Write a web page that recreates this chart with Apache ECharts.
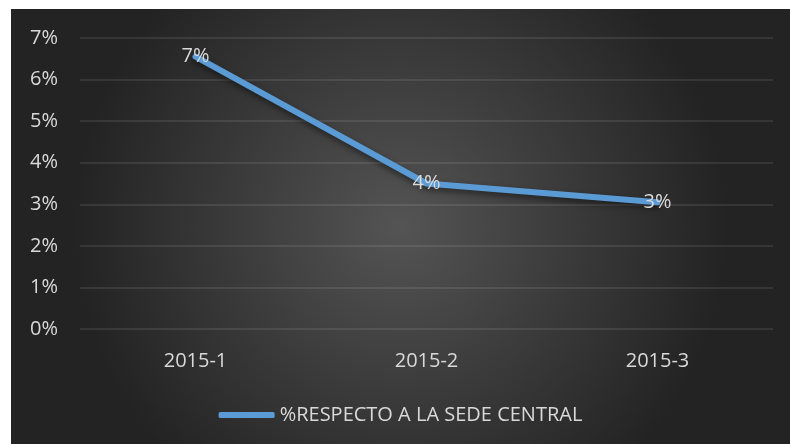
<!DOCTYPE html>
<html>
<head>
<meta charset="utf-8">
<script src="https://cdn.jsdelivr.net/npm/echarts@6/dist/echarts.min.js"></script>
<style>
  html, body { margin: 0; padding: 0; background: #fff; }
  #chart { position: absolute; left: 11px; top: 9px; width: 779px; height: 435px; }
</style>
</head>
<body>
<div id="chart"></div>
<script>
// datos del grafico
const categorias = ["2015-1", "2015-2", "2015-3"];
const porcentajes = [6.55, 3.5, 3.05];
const nombreSerie = "%RESPECTO A LA SEDE CENTRAL";

const chart = echarts.init(document.getElementById("chart"));
const fuente = "'Open Sans', 'DejaVu Sans', sans-serif";
const textoColor = "#d9d9d9";

let options = {
    backgroundColor: {
        type: "radial", x: 0.5, y: 0.5, r: 0.75,
        colorStops: [
            { offset: 0, color: "#545454" },
            { offset: 1, color: "#232323" }
        ]
    },
    textStyle: { fontFamily: fuente },
    grid: { left: 69, right: 17, top: 29, bottom: 115 },
    legend: {
        bottom: 14,
        left: "center",
        icon: "roundRect",
        itemWidth: 56,
        itemHeight: 6,
        itemGap: 4,
        textStyle: { color: textoColor, fontSize: 20, fontFamily: fuente },
        data: [nombreSerie]
    },
    xAxis: {
        type: "category",
        data: categorias,
        axisLine: { show: false },
        axisTick: { show: false },
        axisLabel: { color: textoColor, fontSize: 20, margin: 22 }
    },
    yAxis: {
        type: "value",
        min: 0,
        max: 7,
        interval: 1,
        axisLabel: { color: textoColor, fontSize: 20, margin: 22, formatter: "{value}%" },
        splitLine: { lineStyle: { color: "rgba(255,255,255,0.12)", width: 1.5 } }
    },
    series: [{
        name: nombreSerie,
        type: "line",
        data: porcentajes,
        symbol: "circle",
        symbolSize: 2,
        itemStyle: { color: "#5b9bd5" },
        lineStyle: {
            color: "#5b9bd5",
            width: 6,
            cap: "round",
            shadowColor: "rgba(0,0,0,0.5)",
            shadowBlur: 6,
            shadowOffsetY: 3
        },
        label: {
            show: true,
            position: "inside",
            color: textoColor,
            fontSize: 20,
            formatter: p => Math.round(p.value) + "%"
        }
    }]
};

chart.setOption(options);
</script>
</body>
</html>
